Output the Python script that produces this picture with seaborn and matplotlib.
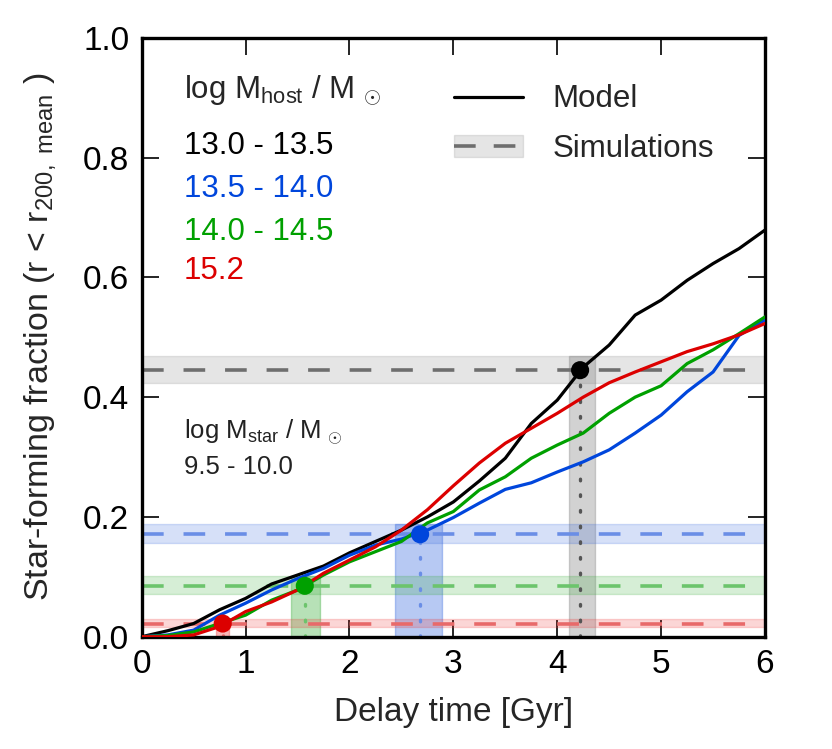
import numpy as np
import pandas as pd
import matplotlib
matplotlib.use("Agg")
import matplotlib.pyplot as plt
from matplotlib.lines import Line2D
from matplotlib.patches import Patch
import seaborn as sns

sns.set_style("ticks", {'axes.edgecolor': 'black', 'xtick.color': 'black', 'ytick.color': 'black'})
plt.rcParams['font.family'] = ['Liberation Sans', 'DejaVu Sans']
plt.rcParams['mathtext.fontset'] = 'custom'
plt.rcParams['mathtext.rm'] = 'Liberation Sans'
plt.rcParams['mathtext.it'] = 'Liberation Sans:italic'
plt.rcParams['mathtext.default'] = 'rm'

# delay time grid [Gyr]
delay = [0.0, 0.25, 0.5, 0.75, 1.0, 1.25, 1.5, 1.75, 2.0, 2.25, 2.5, 2.75, 3.0,
         3.25, 3.5, 3.75, 4.0, 4.25, 4.5, 4.75, 5.0, 5.25, 5.5, 5.75, 6.0]

# model star-forming fractions per host mass bin
frac_130 = [0.0, 0.010, 0.022, 0.045, 0.064, 0.088, 0.103, 0.118, 0.140, 0.159, 0.178, 0.200, 0.225,
            0.260, 0.298, 0.356, 0.395, 0.450, 0.487, 0.537, 0.562, 0.595, 0.623, 0.648, 0.679]
frac_135 = [0.0, 0.003, 0.011, 0.036, 0.056, 0.078, 0.097, 0.114, 0.136, 0.153, 0.163, 0.178, 0.199,
            0.223, 0.246, 0.257, 0.275, 0.292, 0.312, 0.340, 0.370, 0.409, 0.442, 0.503, 0.529]
frac_140 = [0.0, 0.002, 0.008, 0.022, 0.036, 0.061, 0.078, 0.103, 0.125, 0.142, 0.159, 0.190, 0.209,
            0.245, 0.267, 0.298, 0.320, 0.340, 0.373, 0.400, 0.419, 0.456, 0.479, 0.506, 0.534]
frac_152 = [0.0, 0.0, 0.003, 0.017, 0.042, 0.058, 0.078, 0.106, 0.128, 0.150, 0.178, 0.212, 0.252,
            0.290, 0.323, 0.348, 0.373, 0.400, 0.424, 0.442, 0.459, 0.476, 0.489, 0.504, 0.523]

bins = ['13.0 - 13.5', '13.5 - 14.0', '14.0 - 14.5', '15.2']
colors = ['#000000', '#0046dc', '#00a000', '#dc0000']
dash_colors = ['#6e6e6e', '#6a8ee6', '#6cc46c', '#e86a6a']

# simulation fraction (value, low, high) and matched delay time (value, low, high)
sim_frac = [0.445, 0.171, 0.085, 0.022]
sim_lo = [0.423, 0.156, 0.072, 0.016]
sim_hi = [0.469, 0.189, 0.101, 0.029]
t_match = [4.22, 2.68, 1.57, 0.78]
t_lo = [4.11, 2.44, 1.44, 0.72]
t_hi = [4.36, 2.89, 1.72, 0.84]

df = pd.DataFrame({
    'delay': delay * 4,
    'frac': frac_130 + frac_135 + frac_140 + frac_152,
    'bin': [b for b in bins for _ in delay],
})
pts = pd.DataFrame({'t': t_match, 'f': sim_frac, 'bin': bins})
pal = dict(zip(bins, colors))

fig = plt.figure(figsize=(8.32, 7.49), dpi=100)
ax = fig.add_axes([0.1703, 0.1499, 0.7492, 0.7997])

band_col = ['#808080', '#3366dd', '#33aa33', '#ee3333']
for i in range(4):
    ax.axhspan(sim_lo[i], sim_hi[i], color=band_col[i], alpha=0.2, lw=1, zorder=1)
    ax.fill_between([t_lo[i], t_hi[i]], 0, sim_hi[i], color=band_col[i], alpha=0.35, lw=1, zorder=1)
    ax.axhline(sim_frac[i], color=dash_colors[i], lw=2.6, dashes=(6, 5.5), zorder=2)
    ax.plot([t_match[i], t_match[i]], [0, sim_frac[i]], color=dash_colors[i] if i else '#555555',
            lw=2.4, ls=(0, (0.5, 4.2)), dash_capstyle='round', zorder=2)

sns.lineplot(data=df, x='delay', y='frac', hue='bin', palette=pal, lw=2.3,
             legend=False, ax=ax, zorder=4)
sns.scatterplot(data=pts, x='t', y='f', hue='bin', palette=pal, s=170, linewidth=0,
                legend=False, ax=ax, zorder=5)

ax.set_xlim(0, 6)
ax.set_ylim(0, 1.0)
ax.set_xticks(range(7))
ax.set_yticks([0.0, 0.2, 0.4, 0.6, 0.8, 1.0])
ax.set_yticklabels(['0.0', '0.2', '0.4', '0.6', '0.8', '1.0'])
ax.tick_params(direction='in', length=12, width=1.2, labelsize=24, pad=9,
               top=True, right=True, colors='black')
for s in ax.spines.values():
    s.set_linewidth(2.4)
    s.set_color('black')
    s.set_visible(True)
ax.set_xlabel('Delay time [Gyr]', fontsize=24, labelpad=12)
ax.set_ylabel(r'Star-forming fraction (r < r$_{200,\ \mathrm{mean}}$ )', fontsize=24.5, labelpad=18)

# host mass legend
ax.text(0.068, 0.913, r'log M$_{\rm host}$ / M$\,_\odot$', fontsize=22.5, va='center',
        transform=ax.transAxes)
rows_y = [0.819, 0.747, 0.675, 0.610]
for b, c, yy in zip(bins, colors, rows_y):
    ax.text(0.068, yy, b, color=c, fontsize=22.5, va='center', transform=ax.transAxes)

ax.text(0.068, 0.342, r'log M$_{\rm star}$ / M$\,_\odot$', fontsize=18.5, va='center',
        transform=ax.transAxes, color='#222222')
ax.text(0.068, 0.283, '9.5 - 10.0', fontsize=18.5, va='center', transform=ax.transAxes,
        color='#222222')

handles = [Line2D([], [], color='black', lw=2.3),
           (Patch(facecolor='#808080', alpha=0.2, edgecolor='#808080'),
            Line2D([], [], color='#6e6e6e', lw=2.6, dashes=(6, 5)))]
ax.legend(handles, ['Model', 'Simulations'], loc='upper left', bbox_to_anchor=(0.501, 0.922),
          frameon=False, fontsize=22.5, handlelength=2.2, handletextpad=0.95,
          labelspacing=0.62, borderpad=0, borderaxespad=0)

fig.savefig('out.png', dpi=100)
